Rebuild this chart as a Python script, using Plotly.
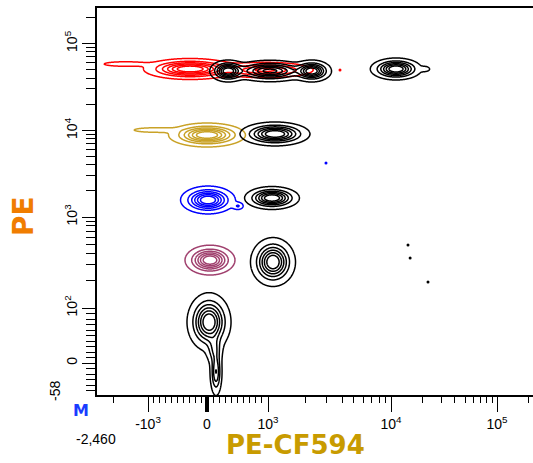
import numpy as np
import plotly.graph_objects as go

# ---------------- data ----------------
# axis scale anchors (biexponential-like display): value -> display unit
X_SCALE_VALUES = [-2460, -1000, 0, 1000, 1e4, 1e5, 262144]
X_SCALE_POS = [0, 51, 110, 171, 294, 400, 444]
X_LINEAR_LIMIT = 1000
Y_SCALE_VALUES = [-58, 0, 100, 1000, 1e4, 1e5, 262144]
Y_SCALE_POS = [0, 32, 87, 178, 264.5, 351.5, 388]
Y_LINEAR_LIMIT = 100

x_tick_values = [-1000, 0, 1000, 1e4, 1e5]
x_tick_text = ["-10<sup>3</sup>", "0", "10<sup>3</sup>", "10<sup>4</sup>", "10<sup>5</sup>"]
y_tick_values = [0, 100, 1000, 1e4, 1e5]
y_tick_text = ["0", "10<sup>2</sup>", "10<sup>3</sup>", "10<sup>4</sup>", "10<sup>5</sup>"]
x_minor_values = ([-2000] + [-k * 100 for k in range(1, 10)] + [k * 100 for k in range(1, 10)]
                  + [k * 1000 for k in range(2, 10)] + [k * 10000 for k in range(2, 10)] + [200000])
y_minor_values = ([-k * 10 for k in range(1, 6)] + [k * 10 for k in range(1, 10)]
                  + [k * 100 for k in range(2, 10)] + [k * 1000 for k in range(2, 10)]
                  + [k * 10000 for k in range(2, 10)] + [200000])

# populations (contour groups)
pop_names = ["red", "black_hi_a", "black_hi_b", "gold", "black_2", "blue", "black_3", "purple", "black_4", "black_5"]
pop_colors = ["#ff0000", "#000000", "#000000", "#c9a227", "#000000", "#0000ff", "#000000", "#a0406e", "#000000", "#000000"]

# gaussian components of each population: PE-CF594 value, PE value, spread (display units), weight
comp_pop = [0, 0, 0, 1, 1, 1, 2, 2, 3, 3, 4, 5, 5, 6, 7, 8, 9, 9, 9]
comp_cf594 = [-288, 951, -1660, 344, 1038, 2280, 11150, 20900, 0, -881, 1140, 16, 508, 1078, 49, 1098,
              33, 148, 120]
comp_pe = [50930, 49600, 58100, 48300, 48300, 48300, 50930, 50930, 8870, 10130, 9120,
           1572, 1340, 1658, 336, 320, 74.5, -16.3, 25]
comp_sx = [19, 22, 14, 7.5, 16, 8, 10.5, 3, 15.7, 14, 14.3, 11.2, 3, 11.2, 10.2, 9.2, 9, 2.8, 4]
comp_sy = [4.3, 3.5, 1.5, 4.5, 4.5, 4.5, 4.5, 1.5, 4.9, 1.5, 4.9, 5.7, 2, 4.7, 6.1, 10, 12, 11, 8]
comp_w = [1, 0.55, 0.15, 1, 0.9, 1, 1, 0.15, 1, 0.15, 1, 1, 0.2, 1, 1, 1, 1, 0.5, 0.3]

# isolated events
dot_cf594 = [2960, 14470, 15150, 22340, 3850]
dot_pe = [4210, 492, 354, 193, 49600]
dot_colors = ["#0000ff", "#000000", "#000000", "#000000", "#ff0000"]

CONTOUR_LEVELS = dict(start=0.05, end=0.8, size=0.15)


# ---------------- scale ----------------
def _g(v, lim):
    v = np.asarray(v, dtype=float)
    return np.where(v <= lim, v / lim, 1 + np.log10(np.maximum(v, lim) / lim))


def sx_(v):
    return np.interp(_g(v, X_LINEAR_LIMIT), _g(X_SCALE_VALUES, X_LINEAR_LIMIT), X_SCALE_POS)


def sy_(v):
    return np.interp(_g(v, Y_LINEAR_LIMIT), _g(Y_SCALE_VALUES, Y_LINEAR_LIMIT), Y_SCALE_POS)


fig = go.Figure()

comp_pop_a = np.array(comp_pop)
cx_all = sx_(comp_cf594)
cy_all = sy_(comp_pe)
sxa = np.array(comp_sx, float)
sya = np.array(comp_sy, float)
wa = np.array(comp_w, float)

for i, (name, col) in enumerate(zip(pop_names, pop_colors)):
    m = comp_pop_a == i
    cx, cy, sx, sy, w = cx_all[m], cy_all[m], sxa[m], sya[m], wa[m]
    x0, x1 = (cx - 4 * sx).min(), (cx + 4 * sx).max()
    y0, y1 = (cy - 4 * sy).min(), (cy + 4 * sy).max()
    gx = np.arange(x0, x1, 0.5)
    gy = np.arange(y0, y1, 0.5)
    X, Y = np.meshgrid(gx, gy)
    Z = np.zeros_like(X)
    for a, b, s1, s2, ww in zip(cx, cy, sx, sy, w):
        Z += ww * np.exp(-0.5 * (((X - a) / s1) ** 2 + ((Y - b) / s2) ** 2))
    Z /= Z.max()
    fig.add_trace(go.Contour(
        x=gx, y=gy, z=Z, name=name,
        contours=dict(coloring="lines", **CONTOUR_LEVELS),
        line=dict(width=1.5, smoothing=1),
        colorscale=[[0, col], [1, col]], showscale=False, hoverinfo="skip",
    ))

fig.add_trace(go.Scatter(
    x=sx_(dot_cf594), y=sy_(dot_pe), mode="markers",
    marker=dict(size=3, color=dot_colors), hoverinfo="skip", showlegend=False,
))
# helper trace for the overlay axis (thick zero tick)
fig.add_trace(go.Scatter(x=[sx_(0)], y=[sy_(0)], xaxis="x2", mode="markers",
                         marker=dict(size=1, opacity=0), hoverinfo="skip", showlegend=False))

tickfont = dict(family="Liberation Sans, Arial, sans-serif", size=14, color="black")
XR = [0, 436]
YR = [0, 387]

fig.update_layout(
    width=533, height=463,
    margin=dict(l=97, r=0, t=8, b=68),
    paper_bgcolor="white", plot_bgcolor="white",
    showlegend=False,
    xaxis=dict(
        range=XR, showgrid=False, zeroline=False,
        showline=True, linecolor="black", linewidth=1.5, mirror=True,
        tickmode="array", tickvals=sx_(x_tick_values).tolist(), ticktext=x_tick_text,
        ticks="outside", ticklen=15, tickwidth=1.3, tickcolor="black", tickfont=tickfont,
        minor=dict(tickmode="array", tickvals=sx_(x_minor_values).tolist(),
                   ticks="outside", ticklen=6, tickwidth=1.3, tickcolor="black"),
    ),
    xaxis2=dict(
        range=XR, overlaying="x", anchor="y", side="bottom", showgrid=False, zeroline=False,
        showline=False, tickmode="array", tickvals=[float(sx_(0))], ticks="outside",
        ticklen=16, tickwidth=4, tickcolor="black", showticklabels=False,
    ),
    yaxis=dict(
        range=YR, showgrid=False, zeroline=False,
        showline=True, linecolor="black", linewidth=1.5,
        tickmode="array", tickvals=sy_(y_tick_values).tolist(), ticktext=y_tick_text,
        tickangle=-90,
        ticks="outside", ticklen=13, tickwidth=1.3, tickcolor="black", tickfont=tickfont,
        minor=dict(tickmode="array", tickvals=sy_(y_minor_values).tolist(),
                   ticks="outside", ticklen=9, tickwidth=1.3, tickcolor="black"),
    ),
)


def px(xp):
    return (xp - 97) / 436


def py(yp):
    return (395 - yp) / 387


ann = [
    dict(text="PE-CF594", x=px(295), y=py(445),
         font=dict(family="DejaVu Sans, Verdana, sans-serif", size=26, color="#c89b00", weight="bold")),
    dict(text="PE", x=px(24), y=py(216), textangle=-90,
         font=dict(family="DejaVu Sans, Verdana, sans-serif", size=28, color="#f07d00", weight="bold")),
    dict(text="M", x=px(81), y=py(411),
         font=dict(family="DejaVu Sans, Verdana, sans-serif", size=16, color="#1a3cff", weight="bold")),
    dict(text="-2,460", x=px(96), y=py(439), font=tickfont),
    dict(text="-58", x=px(55), y=py(391), textangle=-90, font=tickfont),
]
for a in ann:
    fig.add_annotation(xref="paper", yref="paper", showarrow=False,
                       xanchor="center", yanchor="middle", **a)

fig.write_html("out.html", config={"displayModeBar": False},
               post_script="document.body.style.margin='0';document.body.style.overflow='hidden';")
